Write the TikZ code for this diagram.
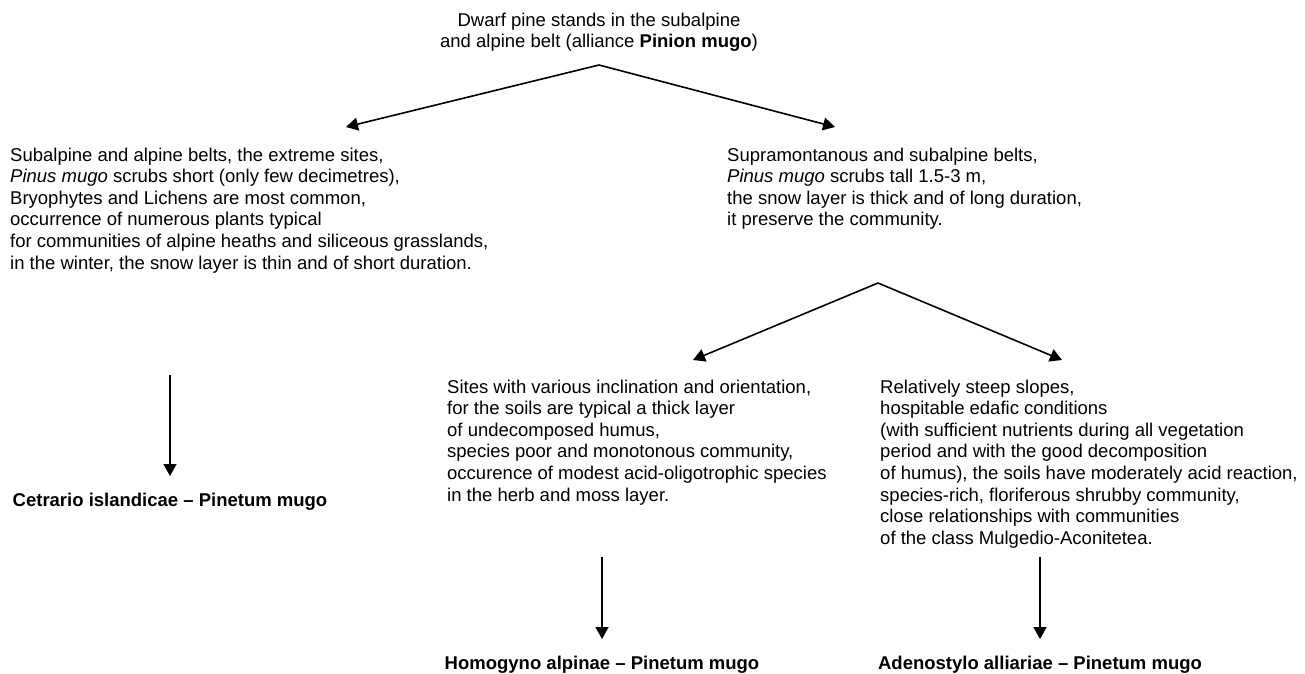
\documentclass[tikz,border=0pt]{standalone}
\usepackage{fontspec}
\setmainfont{Liberation Sans}
\usetikzlibrary{arrows.meta}
\tikzset{
  txt/.style={inner sep=0pt, font=\fontsize{18.5}{21.6}\selectfont},
  lbl/.style={inner sep=0pt, font=\fontsize{18.5}{21.6}\selectfont\bfseries},
  arr/.style={line width=1.6pt, -{Triangle[length=12pt,width=13pt]}}
}
\begin{document}
\begin{tikzpicture}[x=1pt,y=-1pt]
\useasboundingbox (0,0) rectangle (1305,673);
% top
\node[txt, anchor=base] (top) at (599,26) {\begin{tabular}[t]{@{}c@{}}Dwarf pine stands in the subalpine\\ and alpine belt (alliance \textbf{Pinion mugo})\end{tabular}};
% level 1
\node[txt, anchor=base west] (left) at (10,161) {\begin{tabular}[t]{@{}l@{}}Subalpine and alpine belts, the extreme sites,\\ \textit{Pinus mugo} scrubs short (only few decimetres),\\ Bryophytes and Lichens are most common,\\ occurrence of numerous plants typical\\ for communities of alpine heaths and siliceous grasslands,\\ in the winter, the snow layer is thin and of short duration.\end{tabular}};
\node[txt, anchor=base west] (right) at (727,161) {\begin{tabular}[t]{@{}l@{}}Supramontanous and subalpine belts,\\ \textit{Pinus mugo} scrubs tall 1.5-3 m,\\ the snow layer is thick and of long duration,\\ it preserve the community.\end{tabular}};
% level 2
\node[txt, anchor=base west] (mid) at (447,393) {\begin{tabular}[t]{@{}l@{}}Sites with various inclination and orientation,\\ for the soils are typical a thick layer\\ of undecomposed humus,\\ species poor and monotonous community,\\ occurence of modest acid-oligotrophic species\\ in the herb and moss layer.\end{tabular}};
\node[txt, anchor=base west] (rb) at (880,393) {\begin{tabular}[t]{@{}l@{}}Relatively steep slopes,\\ hospitable edafic conditions\\ (with sufficient nutrients during all vegetation\\ period and with the good decomposition\\ of humus), the soils have moderately acid reaction,\\ species-rich, floriferous shrubby community,\\ close relationships with communities\\ of the class Mulgedio-Aconitetea.\end{tabular}};
% labels
\node[lbl, anchor=base] (cet) at (170,506) {Cetrario islandicae – Pinetum mugo};
\node[lbl, anchor=base] (hom) at (602,669) {Homogyno alpinae – Pinetum mugo};
\node[lbl, anchor=base] (ade) at (1040,669) {Adenostylo alliariae – Pinetum mugo};
% connector points
\coordinate (A) at (599,65);
\coordinate (Al) at (346,127);
\coordinate (Ar) at (835,127);
\coordinate (B) at (878,283);
\coordinate (Bl) at (693,360);
\coordinate (Br) at (1062,360);
\coordinate (L1) at (170,375);
\coordinate (L2) at (170,476);
\coordinate (M1) at (602,557);
\coordinate (M2) at (602,639);
\coordinate (R1) at (1040,557);
\coordinate (R2) at (1040,639);
\draw[arr] (A) -- (Al);
\draw[arr] (A) -- (Ar);
\draw[arr] (B) -- (Bl);
\draw[arr] (B) -- (Br);
\draw[arr] (L1) -- (L2);
\draw[arr] (M1) -- (M2);
\draw[arr] (R1) -- (R2);
\end{tikzpicture}
\end{document}
